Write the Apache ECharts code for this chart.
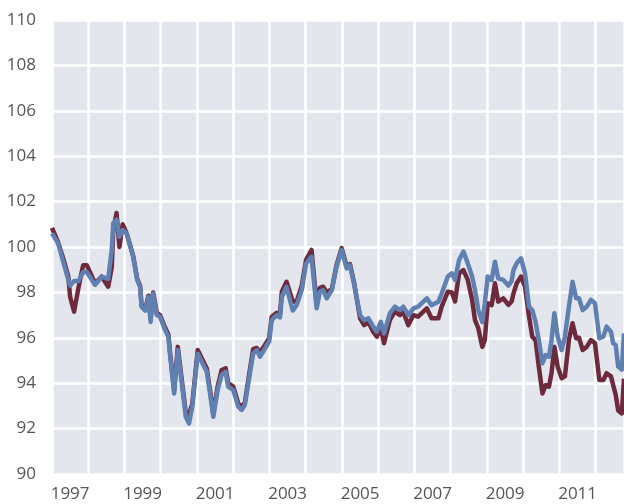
<!DOCTYPE html>
<html>
<head>
<meta charset="utf-8">
<script src="https://cdn.jsdelivr.net/npm/echarts@6/dist/echarts.min.js"></script>
<style>
  html, body { margin: 0; padding: 0; background: #fff; }
  #chart { width: 624px; height: 504px; }
</style>
</head>
<body>
<div id="chart"></div>
<script>
// time as decimal years
var years = [
  1997.00, 1997.17, 1997.31, 1997.45, 1997.50, 1997.61, 1997.73, 1997.86, 1997.96,
  1998.19, 1998.37, 1998.55, 1998.65, 1998.69, 1998.78, 1998.86, 1998.95,
  1999.06, 1999.24, 1999.35, 1999.43, 1999.47, 1999.57, 1999.66, 1999.72, 1999.79, 1999.89, 1999.98,
  2000.12, 2000.21, 2000.26, 2000.37, 2000.47, 2000.58, 2000.69, 2000.78, 2000.87,
  2001.02, 2001.13, 2001.27, 2001.36, 2001.45, 2001.57, 2001.68, 2001.79, 2001.86,
  2002.00, 2002.14, 2002.23, 2002.32, 2002.46, 2002.55, 2002.65, 2002.74, 2002.88, 2002.99,
  2003.06, 2003.20, 2003.29, 2003.34, 2003.47, 2003.64, 2003.75, 2003.89,
  2004.01, 2004.16, 2004.30, 2004.39, 2004.48, 2004.58, 2004.72, 2004.85, 2004.99,
  2005.13, 2005.22, 2005.33, 2005.50, 2005.61, 2005.73, 2005.86, 2005.96,
  2006.07, 2006.16, 2006.32, 2006.46, 2006.60, 2006.69, 2006.83, 2006.97,
  2007.10, 2007.34, 2007.47, 2007.66, 2007.75, 2007.92,
  2008.03, 2008.12, 2008.23, 2008.35, 2008.47, 2008.59, 2008.67, 2008.76, 2008.87, 2008.94,
  2009.02, 2009.13, 2009.22, 2009.31, 2009.45, 2009.59, 2009.68, 2009.73, 2009.82, 2009.94,
  2010.05, 2010.16, 2010.25, 2010.34, 2010.43, 2010.53, 2010.62, 2010.71, 2010.78, 2010.86, 2010.95,
  2011.06, 2011.15, 2011.26, 2011.36, 2011.46, 2011.54, 2011.64, 2011.75, 2011.87, 2011.98,
  2012.10, 2012.21, 2012.30, 2012.42, 2012.48, 2012.55, 2012.62, 2012.72, 2012.78
];

var redValues = [
  100.84, 100.2, 99.5, 98.7, 97.8, 97.15, 98.2, 99.2, 99.2,
  98.4, 98.7, 98.25, 99.13, 100.75, 101.5, 100.0, 101.0,
  100.6, 99.6, 98.6, 98.3, 97.45, 97.25, 97.85, 96.85, 98.0, 97.1, 97.0,
  96.45, 96.15, 95.3, 93.7, 95.6, 94.15, 92.7, 92.6, 93.1,
  95.46, 95.1, 94.65, 93.7, 92.65, 93.85, 94.58, 94.65, 94.0,
  93.85, 93.1, 92.95, 93.15, 94.6, 95.5, 95.55, 95.35, 95.7, 95.98,
  96.93, 97.1, 97.05, 98.03, 98.47, 97.6, 97.6, 98.3,
  99.43, 99.87, 97.5, 98.2, 98.25, 98.0, 98.15, 99.2, 99.95,
  99.15, 99.25, 98.45, 96.86, 96.56, 96.7, 96.27, 96.05,
  96.42, 95.76, 96.78, 97.15, 97.0, 97.15, 96.56, 97.0,
  96.93, 97.3, 96.86, 96.86, 97.37, 98.03,
  98.0, 97.6, 98.84, 98.98, 98.55, 97.67, 96.78, 96.42, 95.6, 95.9,
  97.52, 97.44, 98.4, 97.6, 97.74, 97.45, 97.6, 97.95, 98.4, 98.7,
  98.25, 96.93, 96.05, 95.9, 94.73, 93.55, 93.92, 93.85, 94.44, 95.6, 94.73,
  94.22, 94.3, 95.9, 96.64, 95.98, 96.0, 95.46, 95.6, 95.9, 95.76,
  94.14, 94.14, 94.44, 94.3, 93.92, 93.5, 92.8, 92.67, 94.2
];

var blueValues = [
  100.6, 100.16, 99.35, 98.55, 98.3, 98.5, 98.5, 98.9, 98.9,
  98.33, 98.7, 98.6, 99.9, 101.05, 101.2, 100.45, 100.75,
  100.6, 99.57, 98.55, 98.25, 97.37, 97.2, 97.8, 96.7, 97.95, 97.0, 96.93,
  96.35, 96.05, 95.2, 93.55, 95.46, 94.0, 92.52, 92.23, 92.97,
  95.3, 94.95, 94.5, 93.55, 92.52, 93.7, 94.36, 94.5, 93.85,
  93.7, 92.97, 92.82, 93.04, 94.44, 95.3, 95.46, 95.17, 95.54, 95.83,
  96.78, 97.0, 96.9, 97.8, 98.25, 97.2, 97.44, 98.1,
  99.28, 99.57, 97.3, 98.03, 98.1, 97.74, 98.1, 99.13, 99.87,
  99.06, 99.2, 98.4, 97.0, 96.78, 96.86, 96.49, 96.27,
  96.7, 96.2, 97.08, 97.37, 97.22, 97.37, 97.0, 97.3,
  97.37, 97.74, 97.44, 97.59, 97.95, 98.7,
  98.84, 98.55, 99.43, 99.8, 99.28, 98.7, 98.1, 97.22, 96.7, 97.52,
  98.7, 98.55, 99.35, 98.62, 98.55, 98.3, 98.5, 98.98, 99.28, 99.5,
  98.84, 97.37, 97.22, 96.7, 95.9, 94.88, 95.24, 95.17, 95.9, 97.08, 96.05,
  95.46, 96.05, 97.37, 98.47, 97.74, 97.74, 97.22, 97.37, 97.67, 97.52,
  95.98, 96.05, 96.49, 96.27, 95.76, 95.68, 94.73, 94.6, 96.2
];

var yearLabels = [1997.5, 1999.5, 2001.5, 2003.5, 2005.5, 2007.5, 2009.5, 2011.5];

var redData = [];
var blueData = [];
for (var i = 0; i < years.length; i++) {
    redData.push([years[i], redValues[i]]);
    blueData.push([years[i], blueValues[i]]);
}

var myChart = echarts.init(document.getElementById('chart'));

var option = {
    animation: false,
    grid: {
        left: 52,
        right: 0,
        top: 20,
        bottom: 30,
        show: true,
        backgroundColor: '#e4e6ee',
        borderWidth: 0
    },
    xAxis: {
        type: 'value',
        min: 1997,
        max: 2012.78,
        interval: 1,
        axisLine: {show: false},
        axisTick: {show: false},
        splitLine: {show: true, lineStyle: {color: '#ffffff', width: 2.5}},
        axisLabel: {
            customValues: yearLabels,
            formatter: function (v) { return String(Math.floor(v)); },
            color: '#555555',
            fontSize: 17,
            fontFamily: 'Open Sans',
            margin: 12
        }
    },
    yAxis: {
        type: 'value',
        min: 90,
        max: 110,
        interval: 2,
        axisLine: {show: false},
        axisTick: {show: false},
        splitLine: {show: true, lineStyle: {color: '#ffffff', width: 2.5}},
        axisLabel: {
            color: '#555555',
            fontSize: 17,
            fontFamily: 'Open Sans',
            margin: 16
        }
    },
    series: [
        {
            name: 'red',
            type: 'line',
            data: redData,
            showSymbol: false,
            lineStyle: {color: '#6e2a3d', width: 4.5, join: 'round'}
        },
        {
            name: 'blue',
            type: 'line',
            data: blueData,
            showSymbol: false,
            lineStyle: {color: '#5f80b0', width: 4.5, join: 'round'}
        }
    ]
};
myChart.setOption(option);
</script>
</body>
</html>
